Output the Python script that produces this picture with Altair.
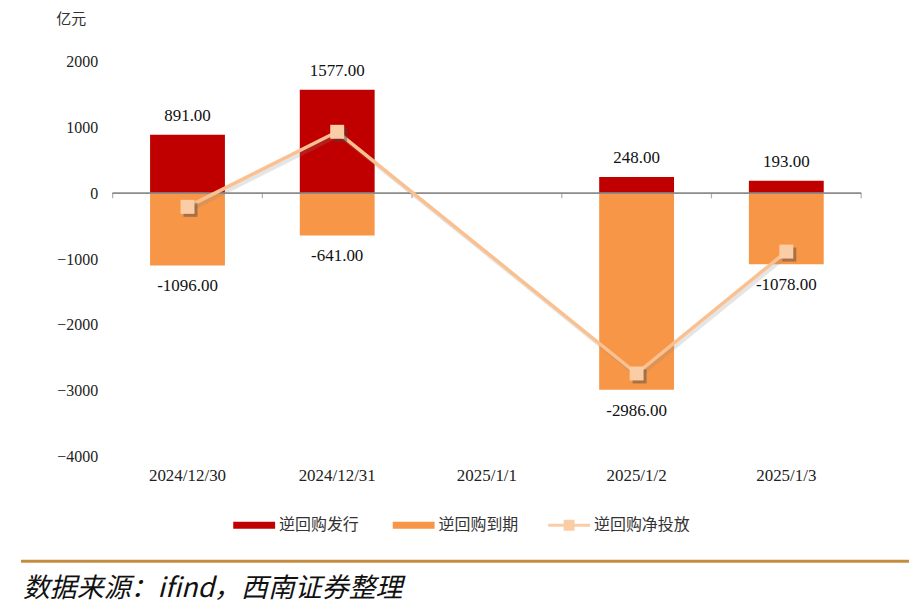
import altair as alt
import pandas as pd

dates = ["2024/12/30", "2024/12/31", "2025/1/1", "2025/1/2", "2025/1/3"]
issue = [891, 1577, None, 248, 193]
mature = [-1096, -641, None, -2986, -1078]
net = [-205, 936, None, -2738, -885]
y_ticks = [2000, 1000, 0, -1000, -2000, -3000, -4000]

S_ISSUE, S_MATURE, S_NET = "逆回购发行", "逆回购到期", "逆回购净投放"

rows = []
for d, a, b in zip(dates, issue, mature):
    if a is not None:
        rows.append({"date": d, "series": S_ISSUE, "value": a, "label": f"{a:.2f}", "pos": 1})
    if b is not None:
        rows.append({"date": d, "series": S_MATURE, "value": b, "label": f"{b:.2f}", "pos": 0})
bars_df = pd.DataFrame(rows)
net_df = pd.DataFrame([{"date": d, "value": v, "series": S_NET} for d, v in zip(dates, net) if v is not None])
tick_df = pd.DataFrame({"date": dates, "zero": [0] * len(dates)})

SERIF = "Liberation Serif"
CJK = "Noto Sans CJK SC"
W, H = 751, 396
HALF_STEP = W / len(dates) / 2

x_scale = alt.Scale(domain=dates, paddingInner=0.5, paddingOuter=0.25)
y_scale = alt.Scale(domain=[-4000, 2000], nice=False, zero=False)
y_axis = alt.Axis(values=y_ticks, format="d", grid=False, domain=False, ticks=False, tickSize=0,
                  labelPadding=15, labelFont=SERIF, labelFontSize=16, labelColor="#222",
                  title="亿元", titleAngle=0, titleX=-42, titleY=-43, titleAlign="center",
                  titleBaseline="middle", titleFont=CJK, titleFontSize=15, titleFontWeight="normal",
                  titleColor="#333")
x_label_axis = alt.Axis(title=None, domain=False, ticks=False, tickSize=0, labelPadding=11,
                        labelFont=SERIF, labelFontSize=17, labelColor="#222", labelAngle=0, grid=False)

BAR_PATH = "M-1,-0.17L1,-0.17L1,0.17L-1,0.17Z"
LINE_PATH = ("M-1,-0.07L-0.26,-0.07L-0.26,-0.26L0.26,-0.26L0.26,-0.07L1,-0.07L1,0.07"
             "L0.26,0.07L0.26,0.26L-0.26,0.26L-0.26,0.07L-1,0.07Z")

X = lambda: alt.X("date:N", scale=x_scale, axis=x_label_axis, sort=dates)
Y = lambda field="value": alt.Y(f"{field}:Q", scale=y_scale, axis=y_axis, stack=None)

bars = alt.Chart(bars_df).mark_bar().encode(
    x=X(),
    y=Y(),
    color=alt.Color("series:N",
                    scale=alt.Scale(domain=[S_ISSUE, S_MATURE], range=["#C00000", "#F79646"]),
                    legend=alt.Legend(title=None, orient="none", legendX=121, legendY=444,
                                      direction="horizontal", symbolType=BAR_PATH, symbolSize=1764,
                                      symbolStrokeWidth=0, labelOffset=4, columnPadding=33,
                                      labelFont=CJK, labelFontSize=16, labelColor="#333", padding=0)),
)

zero_line = alt.Chart(tick_df).mark_rule(color="#8c8c8c", strokeWidth=1.5).encode(
    x=alt.value(0), x2=alt.value(W), y=Y("zero"))
ticks_left = alt.Chart(tick_df).mark_tick(orient="vertical", color="#8c8c8c", size=5, thickness=1.2,
                                          xOffset=-HALF_STEP, yOffset=2.5).encode(x=X(), y=Y("zero"))
ticks_right = alt.Chart(tick_df).transform_filter(alt.datum.date == dates[-1]).mark_tick(
    orient="vertical", color="#8c8c8c", size=5, thickness=1.2, xOffset=HALF_STEP, yOffset=2.5).encode(
    x=X(), y=Y("zero"))

lbl_pos = alt.Chart(bars_df).transform_filter("datum.pos == 1").mark_text(
    font=SERIF, fontSize=17, color="#111", dy=-19, baseline="middle").encode(
    x=X(), y=Y(), text="label:N")
lbl_neg = alt.Chart(bars_df).transform_filter("datum.pos == 0").mark_text(
    font=SERIF, fontSize=17, color="#111", dy=21, baseline="middle").encode(
    x=X(), y=Y(), text="label:N")

line_shadow = alt.Chart(net_df).mark_line(color="#888", opacity=0.22, strokeWidth=4, xOffset=2, yOffset=3).encode(
    x=X(), y=Y())
line = alt.Chart(net_df).mark_line(color="#FAC090", strokeWidth=3.5).encode(x=X(), y=Y())
pt_shadow = alt.Chart(net_df).mark_point(shape="square", filled=True, size=196, color="#444",
                                         opacity=0.45, xOffset=3, yOffset=3).encode(x=X(), y=Y())
points = alt.Chart(net_df).mark_point(shape="square", filled=True, size=196, opacity=1).encode(
    x=X(), y=Y(),
    fill=alt.Fill("series:N", scale=alt.Scale(domain=[S_NET], range=["#FBCDA6"]),
                  legend=alt.Legend(title=None, orient="none", legendX=437, legendY=444,
                                    symbolType=LINE_PATH, symbolSize=1764, symbolStrokeWidth=0,
                                    labelOffset=4, labelFont=CJK, labelFontSize=16,
                                    labelColor="#333", padding=0)),
)

blank = alt.Data(values=[{}])
separator = alt.Chart(blank).mark_rule(color="#C38C3E", strokeWidth=3).encode(
    x=alt.value(-92), x2=alt.value(799), y=alt.value(501))
source = alt.Chart(blank).mark_text(font=CJK, fontSize=27, fontStyle="italic", align="left",
                                    baseline="middle", color="#111").encode(
    x=alt.value(-90), y=alt.value(529), text=alt.value("数据来源：ifind，西南证券整理"))

chart = alt.layer(bars, zero_line, ticks_left, ticks_right, lbl_pos, lbl_neg, line_shadow, line,
                  pt_shadow, points, separator, source).resolve_scale(
    color="independent", fill="independent").properties(
    width=W, height=H,
    autosize=alt.AutoSizeParams(type="none"),
    padding={"left": 105, "top": 53, "right": 48, "bottom": 147},
).configure_view(stroke=None)

chart.save("out.html", embed_options={"renderer": "svg", "actions": False})
